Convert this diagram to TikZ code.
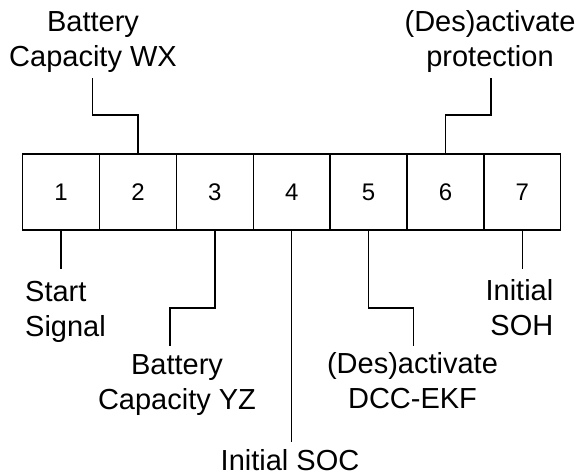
\documentclass[tikz,border=0pt]{standalone}
\usepackage{fontspec}
\setmainfont{Liberation Sans}
\begin{document}
\begin{tikzpicture}[x=1pt,y=-1pt,
  cell/.style={draw, line width=1.5pt, minimum width=76.86pt, minimum height=76pt, inner sep=0pt, font=\fontsize{24}{28}\selectfont},
  lbl/.style={inner sep=0pt, align=center, font=\fontsize{29}{35}\selectfont, anchor=base},
  wire/.style={line width=1.5pt}]
\path[use as bounding box] (0,0) rectangle (577,473);
% cells
\node[cell] (b1) at (61.13,192) {1};
\node[cell] (b2) at (137.99,192) {2};
\node[cell] (b3) at (214.85,192) {3};
\node[cell] (b4) at (291.71,192) {4};
\node[cell] (b5) at (368.57,192) {5};
\node[cell] (b6) at (445.43,192) {6};
\node[cell] (b7) at (522.29,192) {7};
% free ends
\coordinate (e1) at (61.13,268.5);
\coordinate (e2) at (92.5,78);
\coordinate (e3) at (170,345.5);
\coordinate (e4) at (291.71,441.7);
\coordinate (e5) at (413.3,345.5);
\coordinate (e6) at (491,78);
\coordinate (e7) at (522.29,268.5);
% connectors
\draw[wire] (b1.south) -- (e1);
\draw[wire] (b2.north) -- ++(0,-38) -| (e2);
\draw[wire] (b3.south) -- ++(0,77.3) -| (e3);
\draw[wire] (b4.south) -- (e4);
\draw[wire] (b5.south) -- ++(0,77.3) -| (e5);
\draw[wire] (b6.north) -- ++(0,-38) -| (e6);
\draw[wire] (b7.south) -- (e7);
% labels (anchor base = baseline of last line)
\node[lbl] (t2) at (93,67) {Battery\\Capacity WX};
\node[lbl] (t6) at (490,66.5) {(Des)activate\\protection};
\node[lbl, align=left, anchor=base west] (t1) at (25,336) {Start\\Signal};
\node[lbl, align=right, anchor=base east] (t7) at (553.5,335) {Initial\\SOH};
\node[lbl] (t3) at (177,409) {Battery\\Capacity YZ};
\node[lbl] (t5) at (412.5,408.5) {(Des)activate\\DCC-EKF};
\node[lbl] (t4) at (290,470) {Initial SOC};
\end{tikzpicture}
\end{document}
